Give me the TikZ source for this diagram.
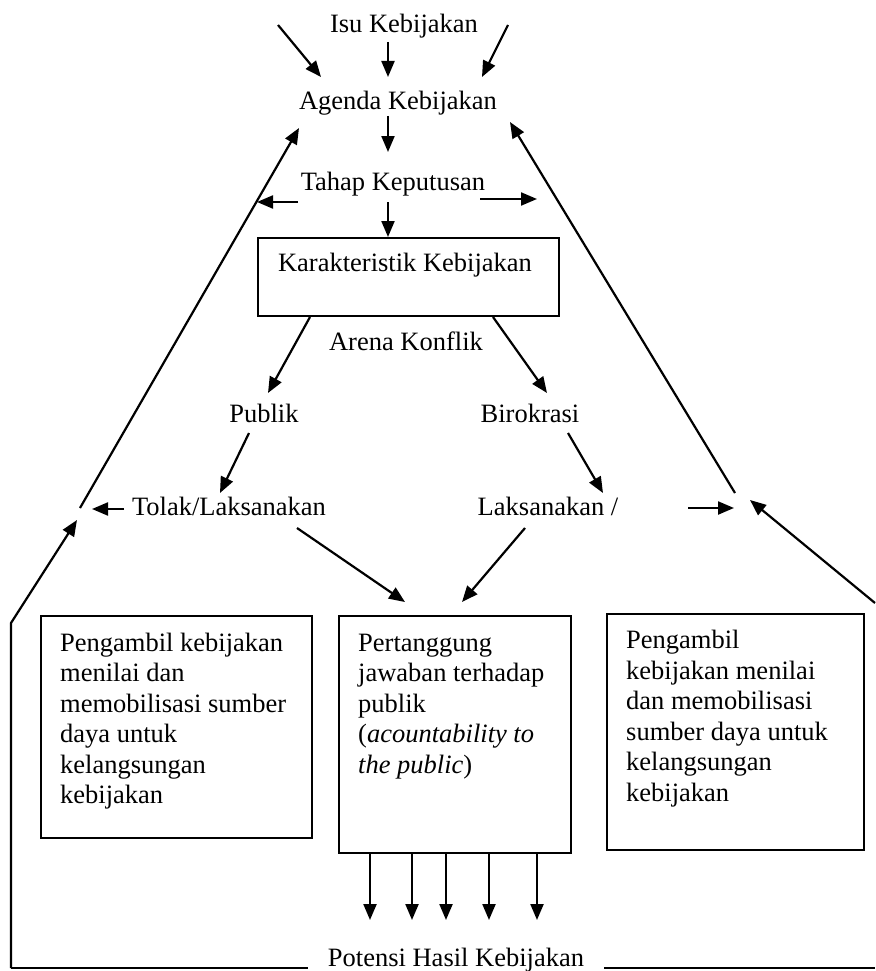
\documentclass[tikz,border=0pt]{standalone}
\usepackage{fontspec}
\setmainfont{Liberation Serif}
\usetikzlibrary{arrows.meta}
\begin{document}
\begin{tikzpicture}[x=1pt,y=-1pt,
  every node/.style={font=\fontsize{26.5}{30.5}\selectfont},
  lbl/.style={inner sep=0pt, anchor=base},
  panel/.style={draw, line width=2.2pt, anchor=north west, inner sep=0pt},
  body/.style={inner sep=0pt, anchor=north west, align=left},
  conn/.style={line width=2.2pt, -{Triangle[length=16pt,width=13pt]}},
  plain/.style={line width=2.2pt},
]
\useasboundingbox[fill=white] (0,0) rectangle (875,971);

% ---- labels of the policy cycle ----
\node[lbl] (isu)    at (404,33)  {Isu Kebijakan};
\node[lbl] (agenda) at (398,110) {Agenda Kebijakan};
\node[lbl] (tahap)  at (393,190) {Tahap Keputusan};
\node[panel, minimum width=301pt, minimum height=78pt] (char) at (257,237) {};
\node[lbl] (chartext) at (405,271) {Karakteristik Kebijakan};
\node[lbl] (arena)  at (406,350) {Arena Konflik};
\node[lbl] (publik) at (264,422) {Publik};
\node[lbl] (biro)   at (530,422) {Birokrasi};
\node[lbl] (tolak)  at (229,515) {Tolak/Laksanakan};
\node[lbl] (laks)   at (548,515) {Laksanakan /};

% ---- the three lower boxes ----
\node[panel, minimum width=271pt, minimum height=222pt] (boxL) at (40,615) {};
\node[panel, minimum width=232pt, minimum height=237pt] (boxM) at (338,615) {};
\node[panel, minimum width=257pt, minimum height=236pt] (boxR) at (606,613) {};

\node[body] (txtL) at (60,629.5) {\strut Pengambil kebijakan\\ menilai dan\\ memobilisasi sumber\\ daya untuk\\ kelangsungan\\ kebijakan};
\node[body] (txtM) at (358,629.5) {\strut Pertanggung\\ jawaban terhadap\\ publik\\ (\textit{acountability to}\\ \textit{the public})};
\node[body] (txtR) at (626,627) {\strut Pengambil\\ kebijakan menilai\\ dan memobilisasi\\ sumber daya untuk\\ kelangsungan\\ kebijakan};

% ---- arrow end points ----
\coordinate (inL0) at (278,25);  \coordinate (inL1) at (321,77);
\coordinate (inC0) at (388,42);  \coordinate (inC1) at (388,77);
\coordinate (inR0) at (508,25);  \coordinate (inR1) at (482,77);
\coordinate (ag0) at (388,116);  \coordinate (ag1) at (388,152);
\coordinate (tl0) at (298,202);  \coordinate (tl1) at (257,202);
\coordinate (tr0) at (480,199);  \coordinate (tr1) at (537,199);
\coordinate (td0) at (388,202);
\coordinate (cp0) at (310,317);  \coordinate (cp1) at (268,393);
\coordinate (cb0) at (493,317);  \coordinate (cb1) at (547,393);
\coordinate (pt0) at (249,433);  \coordinate (pt1) at (220,493);
\coordinate (bl0) at (568,433);  \coordinate (bl1) at (603,493);
\coordinate (tm0) at (297,528);  \coordinate (tm1) at (405,602);
\coordinate (lm0) at (525,528);  \coordinate (lm1) at (462,602);
\coordinate (tw0) at (124,509);  \coordinate (tw1) at (92,509);
\coordinate (le0) at (688,508);  \coordinate (le1) at (734,508);
\coordinate (backL0) at (80,508);  \coordinate (backL1) at (299,128);
\coordinate (backR0) at (735,493); \coordinate (backR1) at (510,122);
\coordinate (frameBL) at (11,968); \coordinate (frameL) at (11,623);
\coordinate (upL1) at (77,520);
\coordinate (frameBR) at (875,968);
\coordinate (upR0) at (875,603); \coordinate (upR1) at (750,500);

% ---- connectors ----
\draw[conn] (inL0) -- (inL1);
\draw[conn] (inC0) -- (inC1);
\draw[conn] (inR0) -- (inR1);
\draw[conn] (ag0) -- (ag1);
\draw[conn] (tl0) -- (tl1);
\draw[conn] (tr0) -- (tr1);
\draw[conn] (td0) -- (td0 |- char.north);
\draw[conn] (cp0) -- (cp1);
\draw[conn] (cb0) -- (cb1);
\draw[conn] (pt0) -- (pt1);
\draw[conn] (bl0) -- (bl1);
\draw[conn] (tm0) -- (tm1);
\draw[conn] (lm0) -- (lm1);
\draw[conn] (tw0) -- (tw1);
\draw[conn] (le0) -- (le1);
\draw[conn] (backL0) -- (backL1);
\draw[conn] (backR0) -- (backR1);
\draw[conn] (frameBL) -- (frameL) -- (upL1);
\draw[conn] (upR0) -- (upR1);
\draw[plain] (frameBL) -- (frameBR);

% ---- outcome arrows ----
\foreach \xx [count=\k] in {370,412,446,489,537} {
  \coordinate (out\k) at (\xx,920);
  \draw[conn] (out\k |- boxM.south) -- (out\k);
}

\node[lbl, fill=white, inner xsep=20pt] (hasil) at (456,966) {Potensi Hasil Kebijakan};
\end{tikzpicture}
\end{document}
